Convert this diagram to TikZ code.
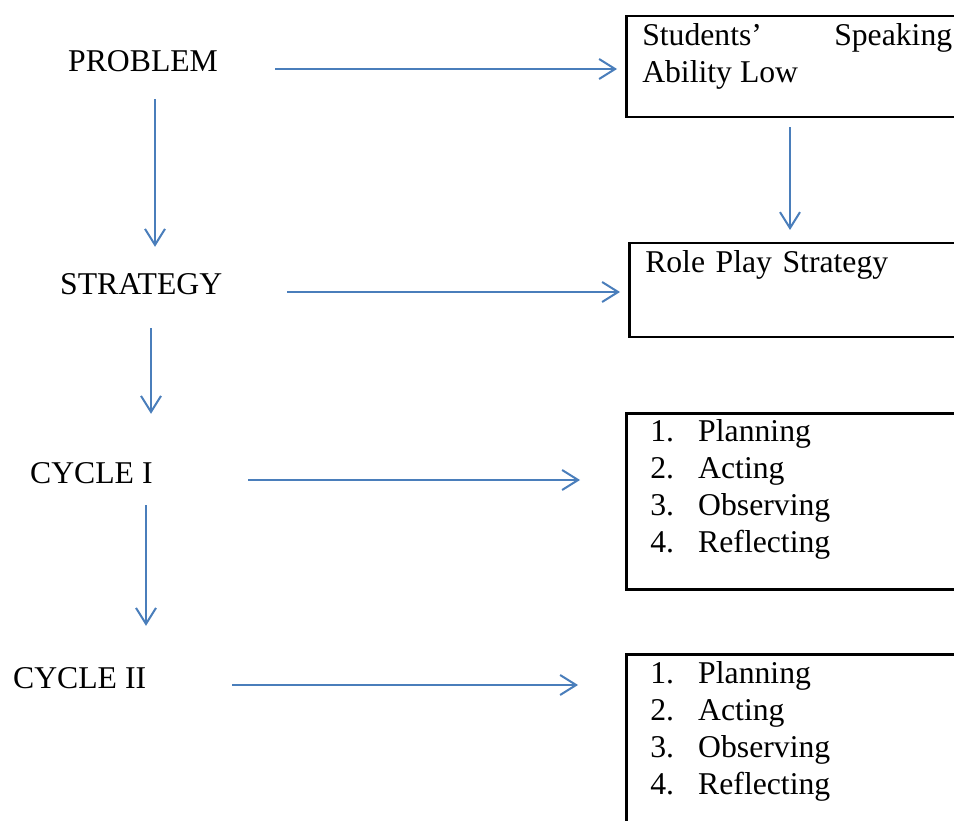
\documentclass[tikz,border=0pt]{standalone}
\usepackage{fontspec}
\setmainfont{Liberation Serif}
\usetikzlibrary{arrows.meta}
\definecolor{flowClr}{HTML}{4A7EBB}
\definecolor{boxBd}{HTML}{000000}
\newcommand{\stepitem}[2]{\hspace*{8pt}\makebox[48pt][l]{#1}#2}

\begin{document}
\begin{tikzpicture}[
  x=1pt, y=-1pt,
  font=\fontsize{31.7}{37}\selectfont,
  >={Straight Barb[length=16pt, width=20pt]},
  lbl/.style={anchor=base west, inner sep=0pt, text height=20pt, text depth=14pt},
  box/.style={draw=boxBd, line width=2.5pt, anchor=north west, inner xsep=16pt,
              inner ysep=0pt, text width=310pt, text height=29pt, align=left},
  flow/.style={->, line width=2pt, draw=flowClr},
]
\useasboundingbox (0,0) rectangle (954,821);
\clip (0,0) rectangle (954,821);

% ---------- left column ----------
\node[lbl] (problem) at (68,72) {PROBLEM};
\node[lbl] (strategy) at (60,295) {STRATEGY};
\node[lbl] (cycleI) at (30,483) {CYCLE I};
\node[lbl] (cycleII) at (13,688) {CYCLE II};

% ---------- right boxes ----------
\node[box, align=justify, text depth=72pt] (lowbox) at (625,15)
  {\hyphenpenalty=10000 \exhyphenpenalty=10000
   Students’ Speaking Ability Low};
\node[box, text depth=65pt] (rolebox) at (628,242)
  {Role Play Strategy};
\node[box, text height=28pt, text depth=148pt] (cyc1box) at (625,412)
  {\stepitem{1.}{Planning}\\
   \stepitem{2.}{Acting}\\
   \stepitem{3.}{Observing}\\
   \stepitem{4.}{Reflecting}};
\node[box, text depth=190pt] (cyc2box) at (625,653)
  {\stepitem{1.}{Planning}\\
   \stepitem{2.}{Acting}\\
   \stepitem{3.}{Observing}\\
   \stepitem{4.}{Reflecting}};

% ---------- down flow ----------
\draw[flow, shorten <=13pt, shorten >=28pt] (problem.south -| 155,0) -- (strategy.north -| 155,0);
\draw[flow, shorten <=19pt, shorten >=49pt] (strategy.south -| 151,0) -- (cycleI.north -| 151,0);
\draw[flow, shorten <=8pt, shorten >=42pt] (cycleI.south -| 146,0) -- (cycleII.north -| 146,0);
\draw[flow, shorten <=9pt, shorten >=12pt] (lowbox.south -| 790,0) -- (rolebox.north -| 790,0);

% ---------- across flow ----------
\draw[flow, shorten >=8pt] (problem.east -| 275,0) -- (problem.east -| lowbox.west);
\draw[flow, shorten >=8pt] (strategy.east -| 287,0) -- (strategy.east -| rolebox.west);
\draw[flow, shorten >=45pt] (cycleI.east -| 248,0) -- (cycleI.east -| cyc1box.west);
\draw[flow, shorten >=47pt] (cycleII.east -| 232,0) -- (cycleII.east -| cyc2box.west);

\end{tikzpicture}
\end{document}
